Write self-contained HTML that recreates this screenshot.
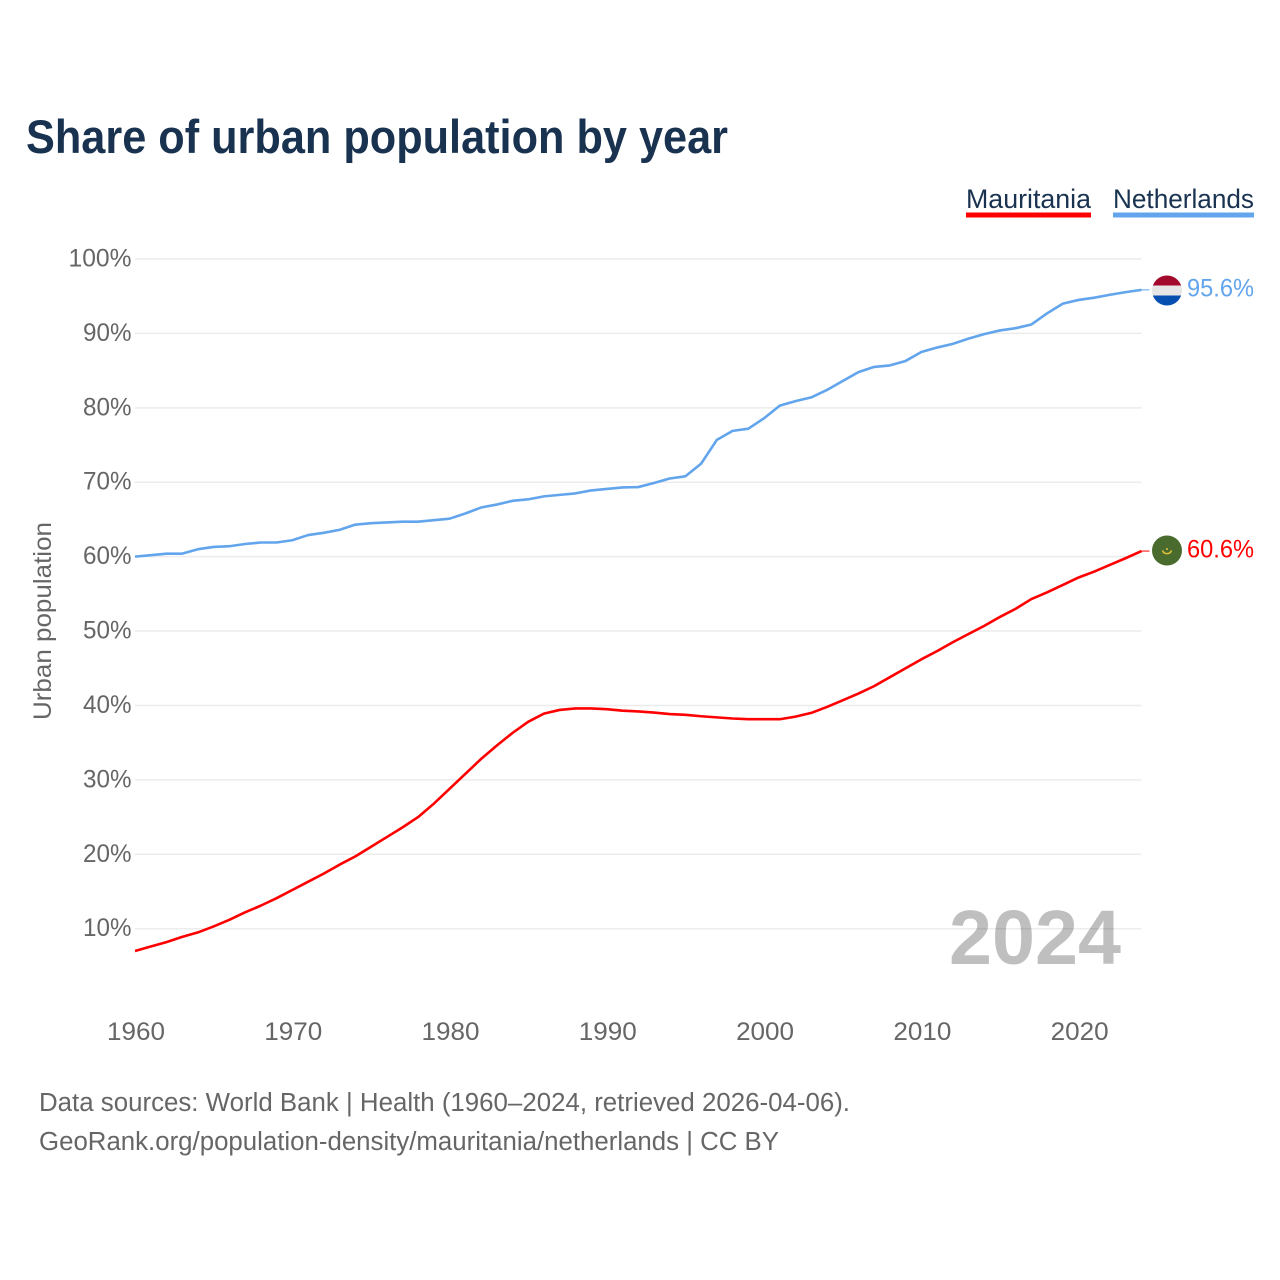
<!DOCTYPE html>
<html lang="en">
<head>
<meta charset="utf-8">
<title>Share of urban population by year</title>
<style>
  html, body { margin: 0; padding: 0; background: #fff; }
  svg { display: block; font-family: "Liberation Sans", sans-serif; }
</style>
</head>
<body>
<svg id="chart" xmlns="http://www.w3.org/2000/svg" width="1280" height="1280" viewBox="0 0 1280 1280">
  <defs>
    <clipPath id="flag-clip-nl"><circle cx="1167" cy="290.5" r="15"></circle></clipPath>
  </defs>
  <rect x="0" y="0" width="1280" height="1280" fill="#ffffff"></rect>

  <text x="26" y="153" font-size="47" font-weight="700" fill="#18324f" textLength="702" lengthAdjust="spacingAndGlyphs">Share of urban population by year</text>

  <g>
    <g>
      <text x="966" y="208" font-size="27" fill="#18324f" textLength="125" lengthAdjust="spacingAndGlyphs">Mauritania</text>
      <rect x="966" y="212.5" width="125" height="5" fill="#ff0000"></rect>
    </g>
    <g>
      <text x="1113" y="208" font-size="27" fill="#18324f" textLength="141" lengthAdjust="spacingAndGlyphs">Netherlands</text>
      <rect x="1113" y="212.5" width="141" height="5" fill="#62a5ec"></rect>
    </g>
  </g>

  <g id="grid"></g>
  <g id="y-ticks"></g>
  <g id="x-ticks"></g>

  <text transform="translate(51,720) rotate(-90)" x="0" y="0" font-size="25" fill="#666666" textLength="198" lengthAdjust="spacingAndGlyphs">Urban population</text>

  <g id="series"></g>

  <text x="949" y="964" font-size="77" font-weight="700" fill="#000000" fill-opacity="0.25" textLength="172" lengthAdjust="spacingAndGlyphs">2024</text>

  <g clip-path="url(#flag-clip-nl)">
    <rect x="1152" y="275.5" width="30" height="10" fill="#a30a2b"></rect>
    <rect x="1152" y="285.5" width="30" height="10" fill="#e6e6e6"></rect>
    <rect x="1152" y="295.5" width="30" height="11" fill="#044fb0"></rect>
  </g>
  <g>
    <circle cx="1167" cy="550.5" r="15" fill="#4a6b2e"></circle>
    <path d="M1162.5 550.5 A4.8 4.8 0 0 0 1171.5 550.5" fill="none" stroke="#e3c43c" stroke-width="1.6"></path>
    <circle cx="1167" cy="549" r="1" fill="#e3c43c"></circle>
  </g>

  <g id="end-labels"></g>

  <text x="39" y="1111" font-size="25.5" fill="#666666" textLength="811" lengthAdjust="spacingAndGlyphs">Data sources: World Bank | Health (1960–2024, retrieved 2026-04-06).</text>
  <text x="39" y="1150" font-size="25.5" fill="#666666" textLength="740" lengthAdjust="spacingAndGlyphs">GeoRank.org/population-density/mauritania/netherlands | CC BY</text>
</svg>

<script>
const years = [1960,1961,1962,1963,1964,1965,1966,1967,1968,1969,1970,1971,1972,1973,1974,1975,1976,1977,1978,1979,1980,1981,1982,1983,1984,1985,1986,1987,1988,1989,1990,1991,1992,1993,1994,1995,1996,1997,1998,1999,2000,2001,2002,2003,2004,2005,2006,2007,2008,2009,2010,2011,2012,2013,2014,2015,2016,2017,2018,2019,2020,2021,2022,2023,2024];
const netherlandsValues = [60.0,60.2,60.4,60.4,61.0,61.3,61.4,61.7,61.9,61.9,62.2,62.9,63.2,63.6,64.3,64.5,64.6,64.7,64.7,64.9,65.1,65.8,66.6,67.0,67.5,67.7,68.1,68.3,68.5,68.9,69.1,69.3,69.35,69.9,70.5,70.8,72.5,75.7,76.9,77.2,78.6,80.3,80.9,81.4,82.4,83.6,84.8,85.5,85.7,86.3,87.5,88.1,88.6,89.3,89.9,90.4,90.7,91.2,92.7,94.0,94.5,94.8,95.2,95.55,95.85];
const mauritaniaValues = [7.0,7.6,8.2,8.9,9.5,10.3,11.2,12.2,13.1,14.1,15.2,16.3,17.4,18.6,19.7,21.0,22.3,23.6,25.0,26.8,28.8,30.8,32.8,34.6,36.3,37.8,38.9,39.4,39.6,39.6,39.5,39.3,39.2,39.05,38.85,38.75,38.55,38.4,38.25,38.15,38.15,38.15,38.5,39.0,39.8,40.7,41.6,42.6,43.8,45.0,46.2,47.3,48.5,49.6,50.7,51.9,53.0,54.3,55.2,56.2,57.2,58.0,58.9,59.8,60.75];
const yTickValues = [10,20,30,40,50,60,70,80,90,100];
const xTickValues = [1960,1970,1980,1990,2000,2010,2020];
const netherlandsLabel = "95.6%";
const mauritaniaLabel = "60.6%";

const NS = "http://www.w3.org/2000/svg";
const plotLeft = 135, plotRight = 1141.5;
function xScale(year) { return plotLeft + (year - 1960) * (plotRight - plotLeft) / (2024 - 1960); }
function yScale(value) { return 928.7 - (value - 10) * 7.4411; }
function labelWidth(text) {
  let width = 0;
  for (const ch of text) {
    if (ch === "%") width += 19.5;
    else if (ch === ".") width += 6.5;
    else width += 14.5;
  }
  return width;
}
function makeText(text, x, y, anchor, fill) {
  const el = document.createElementNS(NS, "text");
  el.textContent = text;
  el.setAttribute("x", x);
  el.setAttribute("y", y);
  el.setAttribute("font-size", "25");
  el.setAttribute("fill", fill);
  el.setAttribute("text-anchor", anchor);
  el.setAttribute("textLength", labelWidth(text));
  el.setAttribute("lengthAdjust", "spacingAndGlyphs");
  return el;
}

const grid = document.getElementById("grid");
const yTicks = document.getElementById("y-ticks");
yTickValues.forEach(function (v) {
  const line = document.createElementNS(NS, "line");
  
  
  line.setAttribute("x1", plotLeft);
  line.setAttribute("x2", plotRight);
  line.setAttribute("y1", yScale(v));
  line.setAttribute("y2", yScale(v));
  line.setAttribute("stroke", "#ececec");
  line.setAttribute("stroke-width", "1.5");
  grid.appendChild(line);

  const label = makeText(v + "%", 131.5, yScale(v) + 7.5, "end", "#666666");
  
  
  yTicks.appendChild(label);
});

const xTicks = document.getElementById("x-ticks");
xTickValues.forEach(function (yr) {
  const label = makeText(String(yr), xScale(yr) + 1, 1040, "middle", "#666666");
  
  
  xTicks.appendChild(label);
});

const seriesGroup = document.getElementById("series");
function drawSeries(values, color) {
  const pts = values.map(function (v, i) { return xScale(years[i]).toFixed(2) + "," + yScale(v).toFixed(2); });
  const line = document.createElementNS(NS, "polyline");
  line.setAttribute("points", pts.join(" "));
  line.setAttribute("fill", "none");
  line.setAttribute("stroke", color);
  line.setAttribute("stroke-width", "2.6");
  line.setAttribute("stroke-linejoin", "round");
  seriesGroup.appendChild(line);
  return line;
}
function drawConnector(values, color) {
  const last = values[values.length - 1];
  const x0 = xScale(years[years.length - 1]);
  const c = document.createElementNS(NS, "line");
  c.setAttribute("x1", x0);
  c.setAttribute("x2", x0 + 8);
  c.setAttribute("y1", yScale(last));
  c.setAttribute("y2", yScale(last));
  c.setAttribute("stroke", color);
  c.setAttribute("stroke-width", "1");
  seriesGroup.appendChild(c);
  return c;
}
const netherlandsLine = drawSeries(netherlandsValues, "#62a5ec");


const mauritaniaLine = drawSeries(mauritaniaValues, "#ff0000");


const netherlandsConnector = drawConnector(netherlandsValues, "#62a5ec");


const mauritaniaConnector = drawConnector(mauritaniaValues, "#ff0000");



const endLabels = document.getElementById("end-labels");
const nlEnd = makeText(netherlandsLabel, 1187, yScale(netherlandsValues[netherlandsValues.length - 1]) + 6.5, "start", "#62a5ec");


nlEnd.setAttribute("textLength", "67");
endLabels.appendChild(nlEnd);
const mrEnd = makeText(mauritaniaLabel, 1187, yScale(mauritaniaValues[mauritaniaValues.length - 1]) + 6.5, "start", "#ff0000");


mrEnd.setAttribute("textLength", "67");
endLabels.appendChild(mrEnd);
</script>
</body>
</html>
